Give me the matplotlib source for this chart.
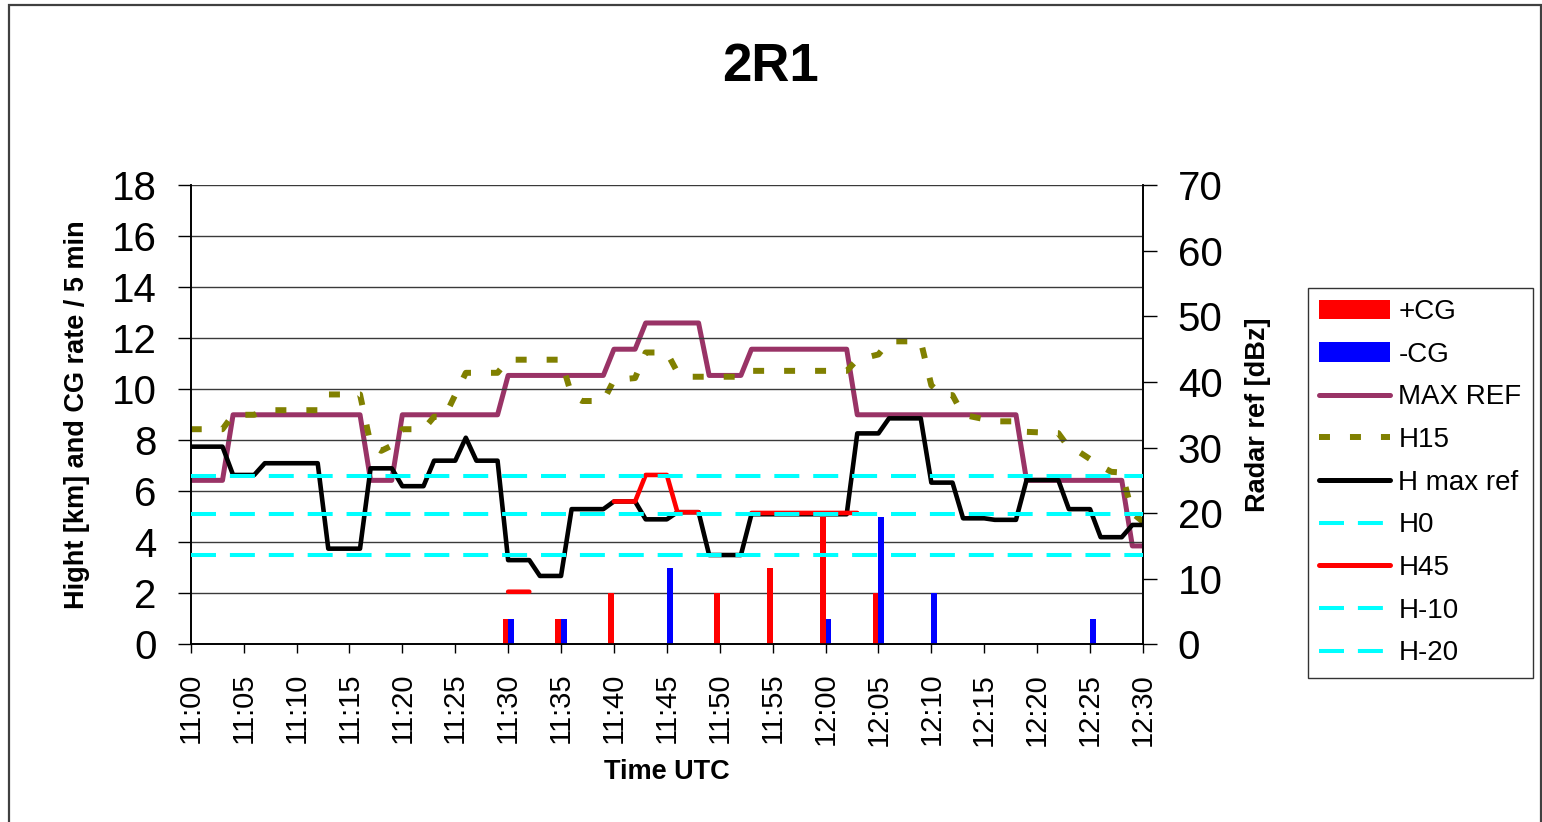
import numpy as np
import matplotlib
matplotlib.use("Agg")
import matplotlib.pyplot as plt
from matplotlib.patches import Patch, Rectangle
from matplotlib.lines import Line2D

plt.rcParams['font.family'] = ['Liberation Sans', 'DejaVu Sans']
plt.rcParams['lines.scale_dashes'] = False

# time axis, minutes after 11:00 UTC
tick_minutes = [0, 5, 10, 15, 20, 25, 30, 35, 40, 45, 50, 55, 60, 65, 70, 75, 80, 85, 90]
tick_labels = ['11:00', '11:05', '11:10', '11:15', '11:20', '11:25', '11:30', '11:35', '11:40',
               '11:45', '11:50', '11:55', '12:00', '12:05', '12:10', '12:15', '12:20', '12:25', '12:30']

# CG flashes per 5 min
pos_cg_t = [30, 35, 40, 50, 55, 60, 65]
pos_cg_n = [1, 1, 2, 2, 3, 5, 2]
neg_cg_t = [30, 35, 45, 60, 65, 70, 85]
neg_cg_n = [1, 1, 3, 1, 5, 2, 1]

# maximum reflectivity [dBz]
maxref_t = [0, 3, 4, 16, 17, 19, 20, 29, 30, 39, 40, 42, 43, 48, 49, 52, 53, 62, 63, 78, 79, 88, 89, 90]
maxref_dbz = [25, 25, 35, 35, 25, 25, 35, 35, 41, 41, 45, 45, 49, 49, 41, 41, 45, 45, 35, 35, 25, 25, 15, 15]

# reflectivity at 15 km [dBz]
h15_t = [0, 3, 4, 6, 7, 12, 13, 16, 17, 18, 19, 20, 22, 23, 24, 26, 29, 30, 35, 36, 37, 39, 40, 42,
         43, 45, 46, 47, 52, 53, 62, 63, 65, 66, 69, 70, 71, 72, 73, 76, 78, 79, 82, 83, 84, 86, 87,
         88, 89, 90]
h15_dbz = [32.8, 32.8, 35.0, 35.0, 35.7, 35.7, 38.1, 38.1, 30.5, 29.5, 30.3, 32.8, 32.8, 34.7, 34.7,
           41.4, 41.4, 43.4, 43.4, 38.0, 37.1, 37.1, 40.3, 40.6, 44.5, 44.5, 41.5, 40.8, 40.8, 41.7,
           41.7, 43.4, 44.2, 46.2, 46.2, 39.5, 38.0, 38.0, 35.0, 34.0, 34.0, 32.4, 32.2, 30.0, 29.3,
           27.2, 26.3, 26.2, 20.0, 18.7]

# height of max reflectivity [km]
hmax_t = [0, 3, 4, 6, 7, 12, 13, 16, 17, 19, 20, 22, 23, 25, 26, 27, 29, 30, 32, 33, 35, 36, 39, 40,
          42, 43, 45, 46, 48, 49, 52, 53, 62, 63, 65, 66, 69, 70, 72, 73, 75, 76, 78, 79, 82, 83, 85,
          86, 88, 89, 90]
hmax_km = [7.75, 7.75, 6.64, 6.64, 7.1, 7.1, 3.75, 3.75, 6.9, 6.9, 6.2, 6.2, 7.2, 7.2, 8.1, 7.2, 7.2,
           3.3, 3.3, 2.68, 2.68, 5.3, 5.3, 5.6, 5.6, 4.9, 4.9, 5.18, 5.18, 3.5, 3.5, 5.1, 5.1, 8.27,
           8.27, 8.86, 8.86, 6.34, 6.34, 4.94, 4.94, 4.88, 4.88, 6.44, 6.44, 5.3, 5.3, 4.2, 4.2, 4.68,
           4.68]

# height of 45 dBz echo top [km], gaps where missing
h45_t = [30, 32, 33, 40, 42, 43, 45, 46, 48, 49, 53, 63]
h45_km = [2.06, 2.06, np.nan, 5.6, 5.6, 6.64, 6.64, 5.18, 5.18, np.nan, 5.15, 5.15]

# isotherm heights [km]
h0_km = 3.5
hm10_km = 5.12
hm20_km = 6.61

RED = '#FF0000'
BLUE = '#0000FF'
PLUM = '#993366'
OLIVE = '#808000'
CYAN = '#00FFFF'

fig = plt.figure(figsize=(15.42, 8.22), dpi=100)
ax = fig.add_axes([0.1237, 0.2162, 0.6175, 0.5584])
ax2 = ax.twinx()
ax.set_zorder(ax2.get_zorder() + 1)
ax.patch.set_visible(False)

# right axis series (drawn beneath)
ax2.plot(maxref_t, maxref_dbz, color=PLUM, lw=3.6, solid_joinstyle='round')
ax2.plot(h15_t, h15_dbz, color=OLIVE, lw=4.3, dashes=(7.9, 14.4), dash_capstyle='butt')

# left axis series
ax.bar(pos_cg_t, pos_cg_n, width=-0.53, align='edge', color=RED, zorder=2)
ax.bar(neg_cg_t, neg_cg_n, width=0.55, align='edge', color=BLUE, zorder=2)
ax.plot(hmax_t, hmax_km, color='black', lw=3.3, solid_joinstyle='round', zorder=3)
cyan_style = dict(color=CYAN, lw=2.9, dashes=(18, 10), dash_capstyle='butt')
ax.axhline(h0_km, zorder=4, **cyan_style)
ax.plot(h45_t, h45_km, color=RED, lw=3.3, solid_capstyle='round', solid_joinstyle='round', zorder=5)
ax.axhline(hm10_km, zorder=6, **cyan_style)
ax.axhline(hm20_km, zorder=7, **cyan_style)

ax.set_xlim(0, 90)
ax.set_ylim(0, 18)
ax2.set_ylim(0, 70)
ax.set_yticks(np.arange(0, 19, 2))
ax2.set_yticks(np.arange(0, 71, 10))
ax.set_xticks(tick_minutes)
ax.set_xticklabels(tick_labels, rotation=90)
ax.grid(axis='y', color='#3a3a3a', lw=1.0)
ax.set_axisbelow(True)

ax.tick_params(axis='y', labelsize=29, length=9.5, width=1.0, pad=15, direction='out')
ax2.tick_params(axis='y', labelsize=29, length=10, width=1.0, pad=15, direction='out')
ax.tick_params(axis='x', labelsize=21, length=6.5, width=1.0, pad=14, direction='out')

for a in (ax, ax2):
    a.spines['top'].set_visible(False)
    for s in ('left', 'right', 'bottom'):
        a.spines[s].set_linewidth(1.2)

ax.set_ylabel('Hight [km] and CG rate / 5 min', fontsize=19.5, fontweight='bold')
ax.yaxis.set_label_coords(-0.106, 0.5)
ax2.set_ylabel('Radar ref [dBz]', fontsize=19.5, fontweight='bold', rotation=90)
ax2.yaxis.set_label_coords(1.1075, 0.5)
ax.set_xlabel('Time UTC', fontsize=19.5, fontweight='bold')
ax.xaxis.set_label_coords(0.5, -0.25)

fig.text(0.5, 0.9185, '2R1', fontsize=38, fontweight='bold', ha='center', va='center')

handles = [
    Patch(facecolor=RED, label='+CG'),
    Patch(facecolor=BLUE, label='-CG'),
    Line2D([], [], color=PLUM, lw=3.6, solid_capstyle='round', label='MAX REF'),
    Line2D([], [], color=OLIVE, lw=4.3, dashes=(7.9, 14.4), dash_capstyle='butt', label='H15'),
    Line2D([], [], color='black', lw=3.6, solid_capstyle='round', label='H max ref'),
    Line2D([], [], label='H0', **cyan_style),
    Line2D([], [], color=RED, lw=3.6, solid_capstyle='round', label='H45'),
    Line2D([], [], label='H-10', **cyan_style),
    Line2D([], [], label='H-20', **cyan_style),
]
leg = fig.legend(handles=handles, loc='upper left', bbox_to_anchor=(0.8483, 0.6496),
                 borderaxespad=0, fontsize=20, frameon=True, fancybox=False, edgecolor='black',
                 handlelength=2.55, handletextpad=0.3, labelspacing=0.6, borderpad=0.4)
leg.get_frame().set_linewidth(1.0)

# chart area border
fig.add_artist(Rectangle((8.5 / 1542, -0.05), 1532 / 1542, (822 - 5) / 822 + 0.05,
                         transform=fig.transFigure, fill=False, edgecolor='#404040', lw=1.6,
                         clip_on=False))

fig.savefig('out.png', dpi=100)
